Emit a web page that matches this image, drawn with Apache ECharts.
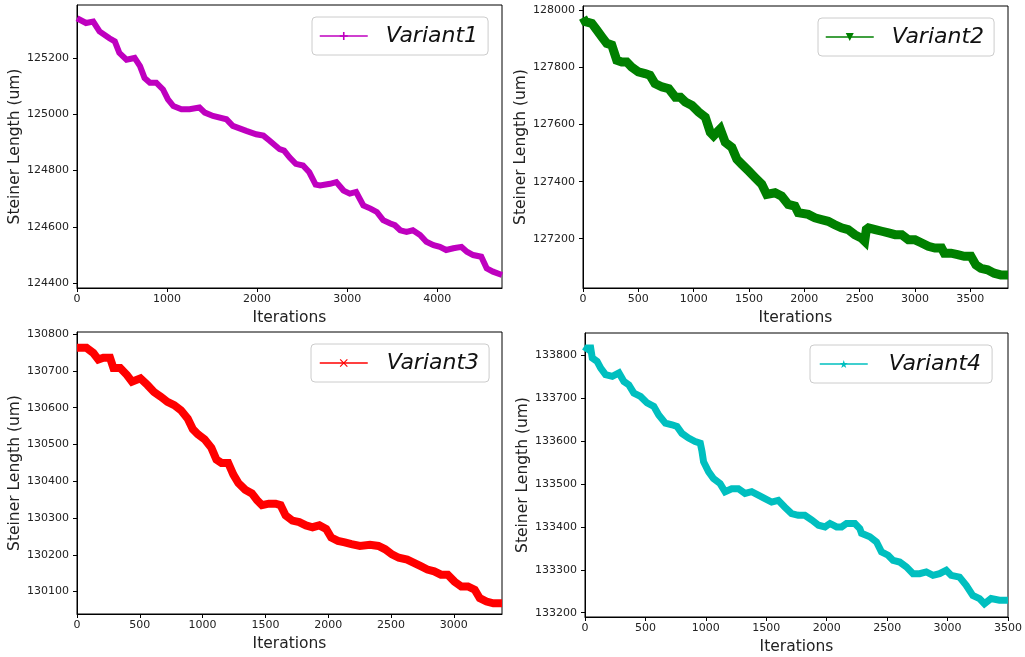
<!DOCTYPE html>
<html>
<head>
<meta charset="utf-8">
<script src="https://cdn.jsdelivr.net/npm/echarts@6/dist/echarts.min.js"></script>
<style>
  html, body { margin: 0; padding: 0; background: #fff; }
  #main { width: 1025px; height: 657px; }
</style>
</head>
<body>
<div id="main"></div>
<script>
// values (iterations / steiner length)
var iter1 = [0,100,180,250,360,420,470,550,640,700,750,810,880,955,1010,1070,1160,1250,1360,1420,1510,1660,1730,1880,1990,2070,2140,2250,2300,2360,2430,2510,2580,2650,2700,2810,2880,2960,3030,3100,3180,3260,3330,3400,3480,3530,3590,3660,3730,3810,3880,3960,4030,4100,4180,4270,4330,4400,4490,4550,4620,4720];
var len1 = [125341,125324,125329,125294,125270,125259,125218,125194,125200,125171,125129,125112,125112,125088,125053,125029,125018,125018,125024,125006,124994,124982,124959,124941,124929,124924,124906,124876,124871,124847,124824,124818,124794,124750,124747,124753,124759,124729,124718,124724,124676,124665,124653,124624,124612,124606,124588,124582,124588,124571,124547,124535,124529,124518,124524,124529,124512,124500,124494,124453,124441,124429];

var iter2 = [0,20,80,125,170,215,260,305,350,395,440,500,560,605,650,715,775,835,880,925,985,1045,1105,1150,1180,1240,1285,1345,1390,1435,1495,1555,1615,1660,1735,1795,1855,1915,1945,2035,2095,2155,2215,2275,2335,2395,2455,2515,2545,2560,2580,2640,2700,2760,2820,2880,2940,3000,3060,3120,3180,3240,3265,3325,3385,3445,3505,3550,3595,3655,3715,3775,3840];
var len2 = [127975,127961,127955,127932,127908,127885,127879,127826,127820,127820,127802,127785,127779,127773,127744,127732,127726,127696,127696,127679,127667,127644,127626,127573,127561,127585,127538,127520,127479,127461,127438,127414,127391,127355,127361,127349,127320,127314,127291,127285,127273,127267,127261,127249,127238,127232,127214,127202,127191,127232,127238,127232,127226,127220,127214,127214,127196,127196,127185,127173,127167,127167,127149,127149,127144,127138,127138,127108,127096,127091,127079,127073,127073];

var iter3 = [0,75,130,170,210,263,290,344,398,438,505,560,613,667,720,774,828,882,922,962,1016,1070,1110,1150,1204,1245,1285,1339,1392,1433,1473,1527,1581,1621,1661,1715,1769,1823,1876,1930,1984,2024,2078,2132,2185,2253,2333,2400,2454,2508,2562,2629,2683,2737,2790,2844,2898,2952,3006,3060,3113,3167,3207,3261,3315,3384];
var len3 = [130763,130763,130749,130731,130736,130736,130708,130708,130689,130671,130680,130662,130643,130630,130616,130607,130593,130570,130542,130528,130514,130491,130459,130450,130450,130418,130395,130377,130367,130349,130335,130339,130339,130335,130307,130293,130289,130280,130275,130280,130270,130247,130238,130234,130229,130224,130227,130224,130215,130201,130192,130187,130178,130169,130160,130155,130146,130146,130127,130114,130114,130105,130082,130073,130068,130068];

var iter4 = [0,19,47,60,100,130,170,226,281,322,363,404,459,514,569,610,665,720,761,802,857,912,954,968,981,1022,1063,1118,1159,1214,1269,1324,1379,1434,1489,1544,1599,1654,1709,1764,1819,1877,1932,1986,2027,2082,2123,2164,2233,2274,2288,2357,2412,2453,2508,2549,2604,2659,2714,2769,2824,2879,2934,2989,3030,3099,3154,3209,3264,3305,3360,3429,3500];
var len4 = [133809,133817,133817,133794,133786,133770,133755,133751,133759,133739,133731,133712,133704,133689,133681,133661,133642,133638,133634,133618,133607,133599,133595,133576,133552,133529,133513,133501,133482,133489,133489,133478,133482,133474,133466,133458,133462,133446,133431,133427,133427,133416,133404,133400,133408,133400,133400,133408,133408,133396,133385,133377,133365,133342,133334,133322,133318,133307,133291,133291,133295,133287,133291,133299,133287,133283,133264,133240,133233,133221,133233,133229,133229];

var names = ['Variant1', 'Variant2', 'Variant3', 'Variant4'];

// tick labels
var xTicks1 = [0,1000,2000,3000,4000];
var yTicks1 = [124400,124600,124800,125000,125200];
var xTicks2 = [0,500,1000,1500,2000,2500,3000,3500];
var yTicks2 = [127200,127400,127600,127800,128000];
var xTicks3 = [0,500,1000,1500,2000,2500,3000];
var yTicks3 = [130100,130200,130300,130400,130500,130600,130700,130800];
var xTicks4 = [0,500,1000,1500,2000,2500,3000,3500];
var yTicks4 = [133200,133300,133400,133500,133600,133700,133800];

var FONT = 'DejaVu Sans';
var plusPath = 'path://M4,0H6V4H10V6H6V10H4V6H0V4H4Z';
var crossPath = 'path://M1,0L5,4L9,0L10,1L6,5L10,9L9,10L5,6L1,10L0,9L4,5L0,1Z';
var starPath = 'path://M5,0L6.2,3.6L10,3.6L6.9,5.9L8.1,9.5L5,7.3L1.9,9.5L3.1,5.9L0,3.6L3.8,3.6Z';

var panels = [
    {grid:{left:77,top:5,width:425,height:283}, xr:[0,4720], yr:[124383,125388], xt:xTicks1, yt:yTicks1,
     xs:iter1, ys:len1, color:'#bf00bf', sym:plusPath, rot:0, lw:6,
     legend:{left:312,top:17,pad:[8,10,8,7],gap:13}},
    {grid:{left:583,top:6,width:425,height:282}, xr:[0,3840], yr:[127027,128016], xt:xTicks2, yt:yTicks2,
     xs:iter2, ys:len2, color:'#008000', sym:'triangle', rot:180, lw:9,
     legend:{left:818,top:18,pad:[8,10,8,7],gap:13}},
    {grid:{left:77,top:332,width:425,height:282}, xr:[0,3384], yr:[130039,130806], xt:xTicks3, yt:yTicks3,
     xs:iter3, ys:len3, color:'#ff0000', sym:crossPath, rot:0, lw:8,
     legend:{left:311,top:344,pad:[8,10,8,8],gap:14}},
    {grid:{left:585,top:333,width:424,height:284}, xr:[0,3500], yr:[133190,133852], xt:xTicks4, yt:yTicks4,
     xs:iter4, ys:len4, color:'#00bfbf', sym:starPath, rot:0, lw:7,
     legend:{left:810,top:345,pad:[8,11,8,9],gap:16}}
];

function plain(v) { return String(v); }

var option = {
    backgroundColor: '#fff',
    animation: false,
    textStyle: {fontFamily: FONT},
    grid: [], xAxis: [], yAxis: [], series: [], legend: []
};

for (var i = 0; i < panels.length; i++) {
    var p = panels[i];
    var g = p.grid;
    option.grid.push({left:g.left, top:g.top, width:g.width, height:g.height,
        show:true, borderColor:'#000', borderWidth:1, backgroundColor:'transparent'});
    option.xAxis.push({
        type:'value', gridIndex:i, min:p.xr[0], max:p.xr[1],
        name:'Iterations', nameLocation:'middle', nameGap:22,
        nameTextStyle:{fontSize:15.5, color:'#222', fontFamily:FONT},
        axisLine:{onZero:false, lineStyle:{color:'#000', width:1}},
        axisTick:{show:true, length:4, customValues:p.xt, lineStyle:{color:'#000'}},
        axisLabel:{customValues:p.xt, formatter:plain, fontSize:11, color:'#222', margin:6, fontFamily:FONT},
        splitLine:{show:false}
    });
    option.yAxis.push({
        type:'value', gridIndex:i, min:p.yr[0], max:p.yr[1],
        name:'Steiner Length (um)', nameLocation:'middle', nameGap:51, nameRotate:90,
        nameTextStyle:{fontSize:15.5, color:'#222', fontFamily:FONT},
        axisLine:{onZero:false, lineStyle:{color:'#000', width:1}},
        axisTick:{show:true, length:4, customValues:p.yt, lineStyle:{color:'#000'}},
        axisLabel:{customValues:p.yt, formatter:plain, fontSize:11, color:'#222', margin:8, fontFamily:FONT},
        splitLine:{show:false}
    });
    var pts = [];
    for (var k = 0; k < p.xs.length; k++) pts.push([p.xs[k], p.ys[k]]);
    option.series.push({
        type:'line', name:names[i], xAxisIndex:i, yAxisIndex:i,
        data:pts, showSymbol:false, symbol:p.sym, symbolRotate:p.rot, symbolSize:7,
        lineStyle:{color:p.color, width:p.lw, join:'miter'},
        itemStyle:{color:p.color}
    });
    option.legend.push({
        data:[names[i]], left:p.legend.left, top:p.legend.top,
        orient:'horizontal', itemWidth:48, itemHeight:10,
        padding:p.legend.pad,
        backgroundColor:'#fff', borderColor:'#cccccc', borderWidth:1, borderRadius:4,
        lineStyle:{width:1.5}, iconRotate:'inherit',
        textStyle:{fontSize:22, fontStyle:'italic', color:'#111', fontFamily:FONT, padding:[0,0,0,p.legend.gap]},
        selectedMode:false
    });
}

var chart = echarts.init(document.getElementById('main'));
chart.setOption(option);
</script>
</body>
</html>
